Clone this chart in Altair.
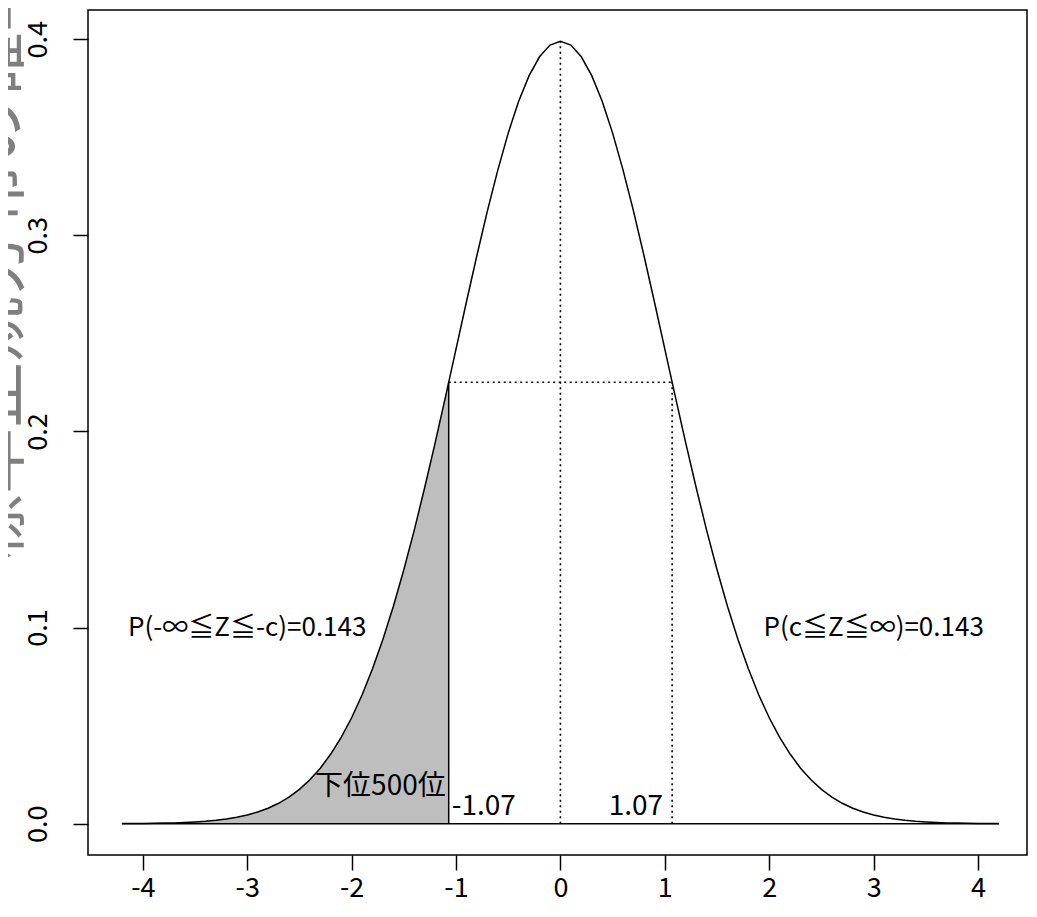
import altair as alt
import pandas as pd

# ---- data ----
z_vals = [-4.2, -4.1, -4.0, -3.9, -3.8, -3.7, -3.6, -3.5, -3.4, -3.3, -3.2, -3.1, -3.0,
          -2.9, -2.8, -2.7, -2.6, -2.5, -2.4, -2.3, -2.2, -2.1, -2.0, -1.9, -1.8, -1.7,
          -1.6, -1.5, -1.4, -1.3, -1.2, -1.1, -1.0, -0.9, -0.8, -0.7, -0.6, -0.5, -0.4,
          -0.3, -0.2, -0.1, 0.0, 0.1, 0.2, 0.3, 0.4, 0.5, 0.6, 0.7, 0.8, 0.9, 1.0, 1.1,
          1.2, 1.3, 1.4, 1.5, 1.6, 1.7, 1.8, 1.9, 2.0, 2.1, 2.2, 2.3, 2.4, 2.5, 2.6, 2.7,
          2.8, 2.9, 3.0, 3.1, 3.2, 3.3, 3.4, 3.5, 3.6, 3.7, 3.8, 3.9, 4.0, 4.1, 4.2]
density = [0.0001, 0.0001, 0.0001, 0.0002, 0.0003, 0.0004, 0.0006, 0.0009, 0.0012, 0.0017,
           0.0024, 0.0033, 0.0044, 0.0060, 0.0079, 0.0104, 0.0136, 0.0175, 0.0224, 0.0283,
           0.0355, 0.0440, 0.0540, 0.0656, 0.0790, 0.0940, 0.1109, 0.1295, 0.1497, 0.1714,
           0.1942, 0.2179, 0.2420, 0.2661, 0.2897, 0.3123, 0.3332, 0.3521, 0.3683, 0.3814,
           0.3910, 0.3970, 0.3989, 0.3970, 0.3910, 0.3814, 0.3683, 0.3521, 0.3332, 0.3123,
           0.2897, 0.2661, 0.2420, 0.2179, 0.1942, 0.1714, 0.1497, 0.1295, 0.1109, 0.0940,
           0.0790, 0.0656, 0.0540, 0.0440, 0.0355, 0.0283, 0.0224, 0.0175, 0.0136, 0.0104,
           0.0079, 0.0060, 0.0044, 0.0033, 0.0024, 0.0017, 0.0012, 0.0009, 0.0006, 0.0004,
           0.0003, 0.0002, 0.0001, 0.0001, 0.0001]

crit = 1.07
crit_density = 0.2251
peak_density = 0.3989

x_ticks = [-4, -3, -2, -1, 0, 1, 2, 3, 4]
y_ticks = [0.0, 0.1, 0.2, 0.3, 0.4]

y_title = "標準正規分布の確率密度"

label_left = "P(-∞≦Z≦-c)=0.143"
label_right = "P(c≦Z≦∞)=0.143"
label_rank = "下位500位"
label_neg = "-1.07"
label_pos = "1.07"

# ---- tables ----
curve = pd.DataFrame({"z": z_vals, "d": density})
shade = curve[curve["z"] <= -crit].copy()
shade = pd.concat([shade, pd.DataFrame({"z": [-crit], "d": [crit_density]})], ignore_index=True)

solid_segs = pd.DataFrame({
    "x": [-crit, z_vals[0]], "x2": [-crit, z_vals[-1]],
    "y": [0.0, 0.0], "y2": [crit_density, 0.0]})
dotted_segs = pd.DataFrame({
    "x": [0.0, crit, -crit], "x2": [0.0, crit, crit],
    "y": [0.0, 0.0, crit_density], "y2": [peak_density, crit_density, crit_density]})

FONT = "Noto Sans CJK JP"

xs = alt.Scale(domain=[-4.525, 4.469], nice=False, zero=False)
ys = alt.Scale(domain=[-0.01596, 0.41486], nice=False, zero=False)

x_axis = alt.Axis(values=x_ticks, title=None, labelPadding=5,
                  labelExpr="datum.value + ''")
y_axis = alt.Axis(values=y_ticks, format=".1f", title=None, labelAngle=270,
                  labelAlign="center", labelBaseline="bottom", labelPadding=21)

area = alt.Chart(shade).mark_area(color="#BEBEBE").encode(
    x=alt.X("z:Q", scale=xs, axis=x_axis),
    y=alt.Y("d:Q", scale=ys, axis=y_axis),
    y2=alt.datum(0),
)

line = alt.Chart(curve).mark_line(color="black", strokeWidth=1.5).encode(
    x=alt.X("z:Q", scale=xs), y=alt.Y("d:Q", scale=ys))

solid = alt.Chart(solid_segs).mark_rule(color="black", strokeWidth=1.5).encode(
    x=alt.X("x:Q", scale=xs), x2="x2:Q", y=alt.Y("y:Q", scale=ys), y2="y2:Q")

dotted = alt.Chart(dotted_segs).mark_rule(color="black", strokeWidth=1.6,
                                          strokeDash=[2, 3.5]).encode(
    x=alt.X("x:Q", scale=xs), x2="x2:Q", y=alt.Y("y:Q", scale=ys), y2="y2:Q")

ann_c = pd.DataFrame({"x": [-3.0, 3.0], "y": [0.1, 0.1], "t": [label_left, label_right]})
ann_r = pd.DataFrame({"x": [-crit], "y": [0.0185], "t": [label_rank]})
ann_l2 = pd.DataFrame({"x": [-crit], "y": [0.0085], "t": [label_neg]})
ann_r2 = pd.DataFrame({"x": [crit], "y": [0.0085], "t": [label_pos]})

def txt(df, align, dx, size):
    return alt.Chart(df).mark_text(align=align, baseline="middle", dx=dx, font=FONT,
                                   fontSize=size, color="black").encode(
        x=alt.X("x:Q", scale=xs), y=alt.Y("y:Q", scale=ys), text="t:N")

t1 = txt(ann_c, "center", 0, 26)
t2 = txt(ann_r, "right", -3, 28)
t3 = txt(ann_l2, "left", 3, 28)
t4 = txt(ann_r2, "right", -9, 28)

ytitle = alt.Chart(pd.DataFrame({"t": [y_title]})).mark_text(
    angle=270, align="left", baseline="alphabetic", font=FONT, fontSize=66,
    color="#7f7f7f").encode(text="t:N", x=alt.value(-70), y=alt.value(550))

chart = alt.layer(area, line, solid, dotted, t1, t2, t3, t4, ytitle).properties(
    width=939, height=845,
    autosize=alt.AutoSizeParams(type="none"),
    padding={"left": 80, "top": 2, "right": 2, "bottom": 52},
).configure_view(stroke="black", strokeWidth=1.5).configure_axis(
    domain=False, grid=False, tickColor="black", tickWidth=1.5, tickSize=15,
    labelFont=FONT, labelFontSize=27, labelColor="black",
)

chart.save("out.html", embed_options={"renderer": "svg", "actions": False})
